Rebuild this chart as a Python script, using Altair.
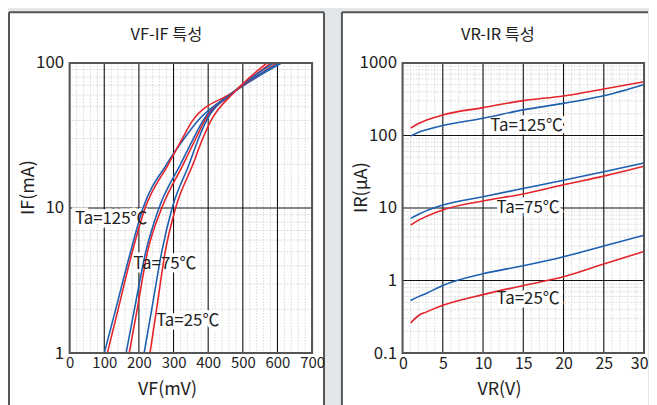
import altair as alt
import pandas as pd

FONT = "Noto Sans CJK KR"
RED = "#e5232b"
BLUE = "#1d5fb0"
INK = "#222222"

# ---------------- VF-IF data (VF in mV at given IF in mA) ----------------
IF_LEVELS = [1, 2, 5, 10, 20, 30, 40, 62, 100]
VF_125_BLUE = [100, 133, 176, 212, 280, 330, 370, 470, 613]
VF_125_RED = [109, 140, 181, 218, 285, 325, 355, 468, 599]
VF_75_BLUE = [163, 187, 220, 258, 320, 357, 385, 470, 607]
VF_75_RED = [172, 195, 225, 266, 328, 364, 390, 472, 582]
VF_25_BLUE = [215, 237, 266, 296, 345, 372, 395, 470, 590]
VF_25_RED = [232, 251, 276, 306, 356, 384, 408, 473, 570]

LEFT_LABELS = ["Ta=125℃", "Ta=75℃", "Ta=25℃"]
LEFT_LABEL_VF = [120, 275, 341]
LEFT_LABEL_IF = [8.4, 4.14, 1.66]

VF_MAJOR = [0, 100, 200, 300, 400, 500, 600, 700]
IF_MAJOR = [1, 10, 100]

# ---------------- VR-IR data (IR in uA at given VR in V) ----------------
VR_LEVELS = [1, 2, 3, 5, 10, 15, 20, 25, 30]
IR_125_RED = [126, 146, 163, 192, 242, 302, 350, 437, 549]
IR_125_BLUE = [98, 111, 120, 137, 173, 225, 277, 353, 505]
IR_75_BLUE = [7.2, 8.2, 9.2, 11.0, 14.3, 18.6, 24.2, 31.6, 41.8]
IR_75_RED = [5.8, 6.8, 7.7, 9.4, 12.5, 15.6, 20.9, 27.5, 37.6]
IR_25_BLUE = [0.53, 0.60, 0.67, 0.855, 1.24, 1.6, 2.13, 3.0, 4.2]
IR_25_RED = [0.26, 0.33, 0.37, 0.455, 0.64, 0.855, 1.13, 1.69, 2.52]

RIGHT_LABELS = ["Ta=125℃", "Ta=75℃", "Ta=25℃"]
RIGHT_LABEL_VR = [15.4, 15.6, 15.6]
RIGHT_LABEL_IR = [137, 10, 0.55]

VR_MAJOR = [0, 5, 10, 15, 20, 25, 30]
IR_MAJOR = [0.1, 1, 10, 100, 1000]


def lines_frame(xs_list, ys_list, names, colors, x_is_level):
    rows = []
    for vals, name, col in zip(ys_list, names, colors):
        for i, (lv, v) in enumerate(zip(xs_list, vals)):
            if x_is_level:
                rows.append({"x": lv, "y": v, "s": name, "c": col, "i": i})
            else:
                rows.append({"x": v, "y": lv, "s": name, "c": col, "i": i})
    return pd.DataFrame(rows)


left_df = lines_frame(
    IF_LEVELS,
    [VF_125_BLUE, VF_125_RED, VF_75_BLUE, VF_75_RED, VF_25_BLUE, VF_25_RED],
    ["125b", "125r", "75b", "75r", "25b", "25r"],
    ["blue", "red", "blue", "red", "blue", "red"],
    x_is_level=False,
)
right_df = lines_frame(
    VR_LEVELS,
    [IR_125_BLUE, IR_125_RED, IR_75_BLUE, IR_75_RED, IR_25_BLUE, IR_25_RED],
    ["125b", "125r", "75b", "75r", "25b", "25r"],
    ["blue", "red", "blue", "red", "blue", "red"],
    x_is_level=True,
)
left_lab = pd.DataFrame({"x": LEFT_LABEL_VF, "y": LEFT_LABEL_IF, "t": LEFT_LABELS})
right_lab = pd.DataFrame({"x": RIGHT_LABEL_VR, "y": RIGHT_LABEL_IR, "t": RIGHT_LABELS})

log_minor = lambda lo, hi: [m * 10 ** e for e in range(lo, hi) for m in range(2, 10)]


def panel(df, lab, x_dom, y_dom, x_major, y_major, x_minor, y_minor,
          x_title, y_title, title, W, H, rect_right, right_border, title_x, axtitle_x,
          flush, xlab_size):
    xs = alt.Scale(domain=x_dom, nice=False, zero=False)
    ys = alt.Scale(type="log", domain=y_dom, nice=False)
    xaxis = alt.Axis(values=x_major, grid=False, ticks=False, tickSize=0, domain=False,
                     labelFont=FONT, labelFontSize=xlab_size, labelColor=INK, labelPadding=3,
                     labelFlush=flush, labelFlushOffset=4, labelOverlap=False,
                     format="d", zindex=2,
                     title=x_title, titleFont=FONT, titleFontSize=18, titleFontWeight="normal",
                     titleColor=INK, titleX=axtitle_x, titleY=37, titleBaseline="middle",
                     titleAlign="center")
    yaxis = alt.Axis(values=y_major, grid=False, ticks=False, tickSize=0, domain=False,
                     labelFont=FONT, labelFontSize=17, labelColor=INK, labelPadding=6,
                     labelFlush=False, labelOverlap=False, format="~g", zindex=2,
                     title=y_title, titleFont=FONT, titleFontSize=18, titleFontWeight="normal",
                     titleColor=INK, titleAngle=270, titleX=-41, titleY=125,
                     titleBaseline="middle", titleAlign="center")
    X = lambda f: alt.X(f, type="quantitative", scale=xs, axis=xaxis)
    Y = lambda f: alt.Y(f, type="quantitative", scale=ys, axis=yaxis)

    one = pd.DataFrame({"k": [0]})
    bottom = 345
    bg = alt.Chart(one).mark_rect(color="white").encode(
        x=alt.value(-61), x2=alt.value(rect_right), y=alt.value(-51), y2=alt.value(bottom))
    bl = alt.Chart(one).mark_rule(color="#555555", strokeWidth=2).encode(
        x=alt.value(-61), y=alt.value(-51), y2=alt.value(bottom))
    bt = alt.Chart(one).mark_rule(color="#555555", strokeWidth=2).encode(
        x=alt.value(-61), x2=alt.value(rect_right), y=alt.value(-51))
    layers = [bg, bl, bt]
    if right_border:
        br = alt.Chart(one).mark_rule(color="#555555", strokeWidth=2).encode(
            x=alt.value(rect_right), y=alt.value(-51), y2=alt.value(bottom))
        layers.append(br)

    minor_x = alt.Chart(pd.DataFrame({"x": x_minor})).mark_rule(
        color="#cccccc", strokeWidth=0.8, strokeDash=[1.5, 1.5]).encode(x=X("x"))
    minor_y = alt.Chart(pd.DataFrame({"y": y_minor})).mark_rule(
        color="#cccccc", strokeWidth=0.8, strokeDash=[1.5, 1.5]).encode(y=Y("y"))
    major_x = alt.Chart(pd.DataFrame({"x": x_major})).mark_rule(
        color="#111111", strokeWidth=1.1).encode(x=X("x"))
    major_y = alt.Chart(pd.DataFrame({"y": y_major})).mark_rule(
        color="#111111", strokeWidth=1.1).encode(y=Y("y"))

    halo = alt.Chart(lab).mark_text(font=FONT, fontSize=17, color="white", stroke="white",
                                    strokeWidth=7).encode(x=X("x"), y=Y("y"), text="t:N")
    lines = alt.Chart(df).mark_line(strokeWidth=1.6, interpolate="monotone").encode(
        x=X("x"), y=Y("y"), detail="s:N", order="i:Q",
        color=alt.Color("c:N", scale=alt.Scale(domain=["blue", "red"], range=[BLUE, RED]),
                        legend=None))
    text = alt.Chart(lab).mark_text(font=FONT, fontSize=17, color=INK).encode(
        x=X("x"), y=Y("y"), text="t:N")
    frame = alt.Chart(one).mark_rect(filled=False, stroke="#555555", strokeWidth=2).encode(
        x=alt.value(0), x2=alt.value(W), y=alt.value(0), y2=alt.value(H))
    ttl = alt.Chart(one).mark_text(font=FONT, fontSize=16.5, color=INK, baseline="middle").encode(
        x=alt.value(title_x), y=alt.value(-28), text=alt.value(title))

    layers += [minor_x, minor_y, major_x, major_y, halo, lines, text, frame, ttl]
    return alt.layer(*layers).properties(width=W, height=H)


left = panel(
    left_df, left_lab, [0, 700], [1, 100], VF_MAJOR, IF_MAJOR,
    [v for v in range(20, 700, 20) if v % 100], log_minor(0, 2),
    "VF(mV)", "IF(mA)", "VF-IF 특성", 244, 292, 256, True, 97.5, 98, False, 15)
right = panel(
    right_df, right_lab, [0, 30], [0.1, 1000], VR_MAJOR, IR_MAJOR,
    [v for v in range(1, 30) if v % 5], log_minor(-1, 3),
    "VR(V)", "IR(μA)", "VR-IR 특성", 243, 292, 247, False, 96, 97, True, 16)

chart = alt.hconcat(left, right, spacing=16).properties(
    padding={"left": 0, "top": 2, "right": 0, "bottom": 0},
    background="#e3e7ea",
).configure_view(stroke=None)

chart.save("out.html", embed_options={"renderer": "svg", "actions": False})
